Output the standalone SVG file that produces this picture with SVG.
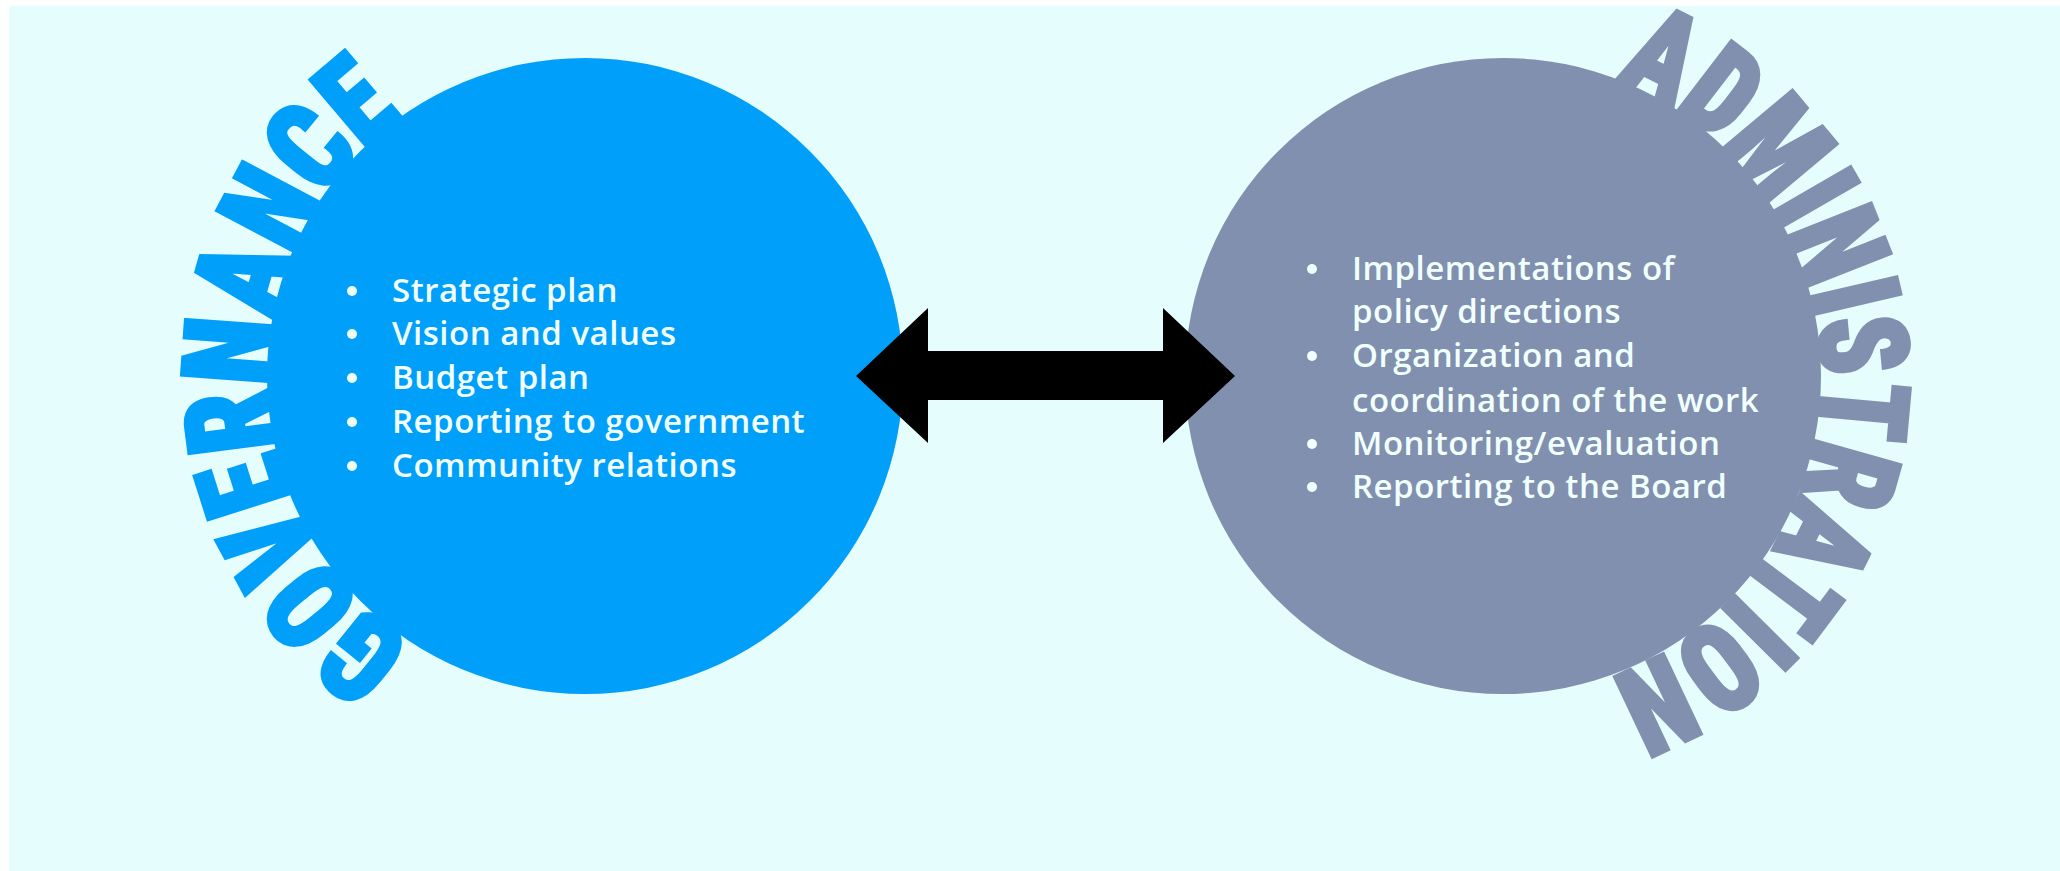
<svg xmlns="http://www.w3.org/2000/svg" xmlns:xlink="http://www.w3.org/1999/xlink" width="2060" height="871" viewBox="0 0 2060 871">
  <style>
    .bg { fill: #E6FDFD; }
    .gov { fill: #009FFA; }
    .adm { fill: #8090AE; }
    .arc { font-family: "Liberation Sans Narrow", "Roboto Condensed", "DejaVu Sans Condensed", sans-serif; font-stretch: condensed; font-weight: 900; font-size: 124px; stroke-width: 4; stroke-linejoin: miter; }
    .gov-t { fill: #009FFA; stroke: #009FFA; }
    .adm-t { fill: #8090AE; stroke: #8090AE; }
    .item { font-family: "Open Sans", "Noto Sans", "Liberation Sans", sans-serif; font-size: 33px; font-weight: 600; letter-spacing: 0.5px; fill: #F2FFFF; }
    .dot { fill: #F2FFFF; }
    .arrow { fill: #000000; }
  </style>
  <defs>
    <path id="govArc" d="M 591.9 693.9 A 318 318 0 0 1 578.1 58.1" fill="none"/>
    <path id="admArc" d="M 1506.3 60 A 318 318 0 0 1 1499.7 696" fill="none"/>
  </defs>
  <rect class="bg" x="9" y="6" width="2051" height="865"/>

  <g id="governance">
    <circle class="gov" cx="585" cy="376" r="318"/>
    <text class="arc gov-t" text-anchor="middle"><textPath xlink:href="#govArc" href="#govArc" startOffset="50%" textLength="618" lengthAdjust="spacingAndGlyphs">GOVERNANCE</textPath></text>
    <circle class="dot" cx="352" cy="291" r="5"/>
    <circle class="dot" cx="352" cy="334" r="5"/>
    <circle class="dot" cx="352" cy="378" r="5"/>
    <circle class="dot" cx="352" cy="422" r="5"/>
    <circle class="dot" cx="352" cy="466" r="5"/>
    <text class="item" x="392" y="302">Strategic plan</text>
    <text class="item" x="392" y="345">Vision and values</text>
    <text class="item" x="392" y="389">Budget plan</text>
    <text class="item" x="392" y="433">Reporting to government</text>
    <text class="item" x="392" y="477">Community relations</text>
  </g>

  <g id="administration">
    <circle class="adm" cx="1503" cy="376" r="318"/>
    <text class="arc adm-t" text-anchor="middle"><textPath xlink:href="#admArc" href="#admArc" startOffset="50%" textLength="775" lengthAdjust="spacingAndGlyphs">ADMINISTRATION</textPath></text>
    <circle class="dot" cx="1312" cy="269" r="5"/>
    <circle class="dot" cx="1312" cy="356" r="5"/>
    <circle class="dot" cx="1312" cy="444" r="5"/>
    <circle class="dot" cx="1312" cy="487" r="5"/>
    <text class="item" x="1352" y="280">Implementations of</text>
    <text class="item" x="1352" y="323">policy directions</text>
    <text class="item" x="1352" y="367">Organization and</text>
    <text class="item" x="1352" y="412">coordination of the work</text>
    <text class="item" x="1352" y="455">Monitoring/evaluation</text>
    <text class="item" x="1352" y="498">Reporting to the Board</text>
  </g>

  <g id="connectors">
    <polygon class="arrow" points="856,376 928,308 928,351 1163,351 1163,308 1235,376 1163,443 1163,400 928,400 928,443"/>
  </g>
</svg>
